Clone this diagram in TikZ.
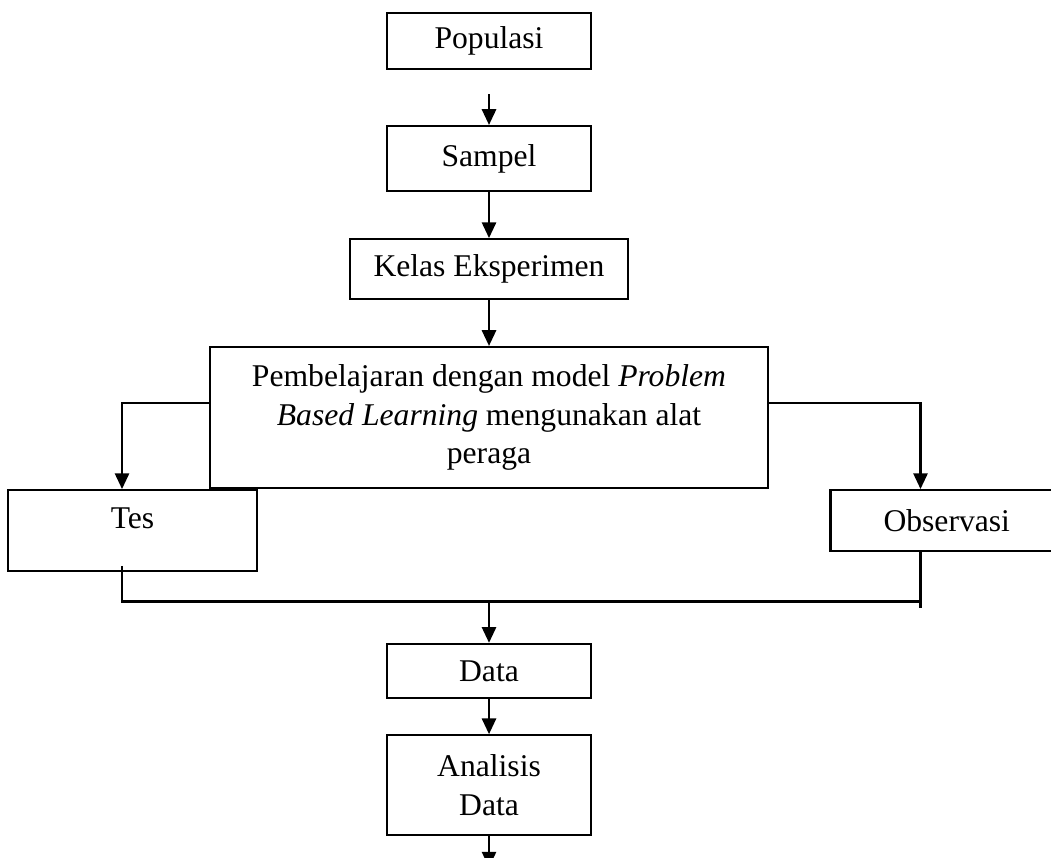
\documentclass[tikz,border=0pt]{standalone}
\usepackage{fontspec}
\setmainfont{Liberation Serif}
\usepackage{tikz}
\usetikzlibrary{arrows.meta, calc, positioning}
\tikzstyle{block} = [rectangle, thick, inner sep=0pt, text centered, draw=black]
\tikzstyle{arrow} = [thick, -{Triangle[length=2.1mm, width=1.9mm]}]
\tikzstyle{connector} = [thick]

\begin{document}
\begin{tikzpicture}[node distance = 6mm, font=\fontsize{12}{14.6}\selectfont]
		\useasboundingbox (0,0) rectangle (14.013,-11.427);
		\node (Populasi) [block, minimum width=2.73cm, minimum height=0.75cm] at (6.52,-0.547) {Populasi};
		\node (Sampel) [block, minimum width=2.72cm, minimum height=0.87cm, below = 7.3mm of Populasi] {Sampel};
		\node (Kelas) [block, minimum width=3.71cm, minimum height=0.8cm, below = 6.1mm of Sampel] {Kelas Eksperimen};
		\node (Pembelajaran) [block, minimum width=7.43cm, minimum height=1.88cm, align=center, below = 6.1mm of Kelas] {Pembelajaran dengan model \textit{Problem}\\\textit{Based Learning} mengunakan alat\\peraga};
		\node (Tes) [block, anchor=north east, minimum width=3.32cm, inner ysep=2.4mm, text depth=3.2mm] at ([xshift=6.5mm]Pembelajaran.south west) {Tes};
		\node (Observasi) [block, anchor=north west, minimum width=3.1cm, minimum height=0.81cm] at ([xshift=8.1mm]Pembelajaran.south east) {Observasi};
		\node (Data) [block, minimum width=2.72cm, minimum height=0.72cm, below = 20.5mm of Pembelajaran] {Data};
		\node (Analisis) [block, minimum width=2.73cm, minimum height=1.33cm, align=center, below = 4.7mm of Data] {Analisis\\Data};
		
		\coordinate (TesOut) at ([xshift=-1.4mm]Tes.south);
		\coordinate (ObsOut) at ([xshift=-3.5mm]Observasi.south);
		\coordinate (Merge) at ($ (Data.north) + (0mm,5.5mm) $);
		\coordinate (End) at ($ (Analisis.south) + (0mm,-4.2mm) $);
		
		\draw [arrow, shorten <=3.2mm] (Populasi) -- (Sampel);
		\draw [arrow] (Sampel) -- (Kelas);
		\draw [arrow] (Kelas) -- (Pembelajaran);
		\draw [arrow] ($ (Pembelajaran.west) + (0mm,1.9mm) $) -| ([xshift=-1.4mm]Tes.north);
		\draw [arrow] ($ (Pembelajaran.east) + (0mm,1.9mm) $) -| ([xshift=-3.5mm]Observasi.north);
		\draw [connector] ($ (TesOut) + (0mm,0.8mm) $) |- (ObsOut |- Merge) -- (ObsOut);
		\draw [connector] (ObsOut |- Merge) -- ++(0mm,-0.9mm);
		\draw [arrow] (Merge) -- (Data);
		\draw [arrow] (Data) -- (Analisis);
		\draw [arrow] (Analisis) -- (End);
		\end{tikzpicture}
\end{document}
